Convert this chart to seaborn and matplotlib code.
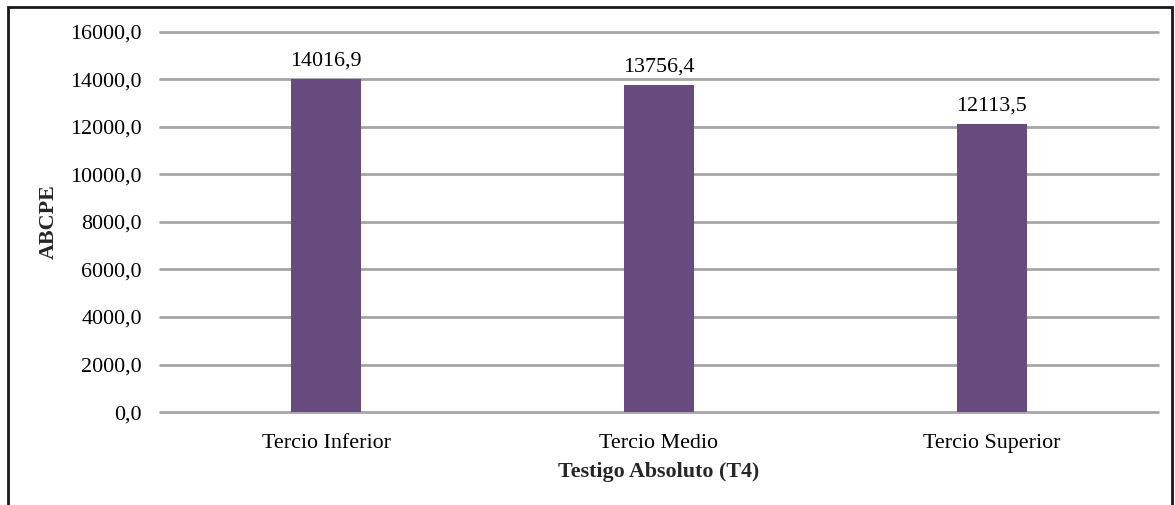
import numpy as np
import matplotlib
matplotlib.use("Agg")
import matplotlib.pyplot as plt
from matplotlib.ticker import FuncFormatter
from matplotlib.patches import Rectangle
import seaborn as sns
import pandas as pd

# datos del gráfico
categorias = ["Tercio Inferior", "Tercio Medio", "Tercio Superior"]
valores = [14016.9, 13756.4, 12113.5]
yticks = [0, 2000, 4000, 6000, 8000, 10000, 12000, 14000, 16000]

df = pd.DataFrame({"tercio": categorias, "abcpe": valores})

sns.set_theme(style="white")
plt.rcParams["font.family"] = ["Liberation Serif", "DejaVu Serif"]

fig = plt.figure(figsize=(11.75, 5.05), dpi=100)
ax = fig.add_axes([0.136, 0.184, 0.8495, 0.753])

sns.barplot(data=df, x="tercio", y="abcpe", color="#674A7E", saturation=1,
            width=0.21, linewidth=0, ax=ax, zorder=3)

ax.set_ylim(0, 16000)
ax.set_xlim(-0.5, 2.5)
ax.set_yticks(yticks)
ax.yaxis.set_major_formatter(FuncFormatter(lambda v, p: f"{v:.1f}".replace(".", ",")))
ax.grid(axis="y", color="#A6A6A6", linewidth=2, zorder=0)
for l in ax.get_ygridlines():
    l.set_clip_on(False)
for s in ax.spines.values():
    s.set_visible(False)
ax.tick_params(axis="both", labelsize=15.8, length=0, colors="black")
ax.tick_params(axis="y", pad=13)
ax.tick_params(axis="x", pad=16)

# etiquetas de valores
for i, v in enumerate(valores):
    ax.text(i, v + 350, f"{v:.1f}".replace(".", ","), ha="center", va="bottom",
            fontsize=15.8, color="black")

ax.set_xlabel("Testigo Absoluto (T4)", fontsize=15.8, fontweight="bold", labelpad=6)
ax.set_ylabel("ABCPE", fontsize=15.8, fontweight="bold", labelpad=8)

# marco de la figura
fig.patches.append(Rectangle((8 / 1175, -0.1), (1172 - 8) / 1175, 1.1 - 7 / 505,
                             transform=fig.transFigure, fill=False,
                             edgecolor="#1A1A1A", linewidth=2))

fig.savefig("out.png", dpi=100)
